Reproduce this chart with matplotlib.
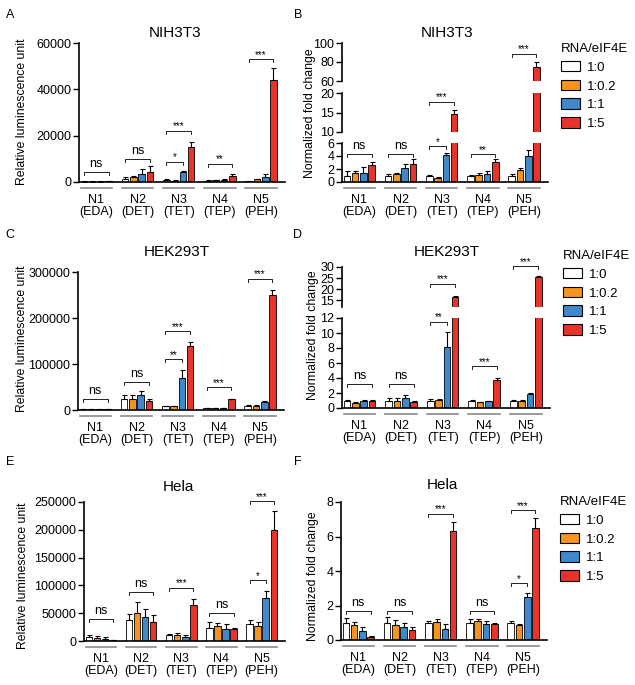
import numpy as np
import matplotlib
matplotlib.use("Agg")
import matplotlib.pyplot as plt
import matplotlib.transforms as mtransforms
from matplotlib.patches import Patch

plt.rcParams["font.family"] = ["Liberation Sans", "DejaVu Sans"]

#
# DATA
#

groups = ["N1\n(EDA)", "N2\n(DET)", "N3\n(TET)", "N4\n(TEP)", "N5\n(PEH)"]
ratios = ["1:0", "1:0.2", "1:1", "1:5"]
colors = ["white", "#f7941d", "#3f88cc", "#e8332a"]

# rows = groups N1..N5, columns = ratios 1:0, 1:0.2, 1:1, 1:5
nih_rlu = [[200, 200, 200, 400],
           [1500, 2000, 3500, 4200],
           [800, 500, 4300, 15200],
           [500, 700, 900, 2600],
           [400, 1200, 2200, 44200]]
nih_rlu_err = [[100, 100, 100, 200],
               [800, 500, 2000, 2500],
               [300, 200, 500, 2000],
               [200, 300, 600, 800],
               [200, 300, 1200, 4800]]
nih_rlu_sig = [(0, 0, 3, 4300, "ns"), (1, 0, 3, 10100, "ns"), (2, 0, 2, 8700, "*"),
               (2, 0, 3, 22100, "***"), (3, 0, 3, 7900, "**"), (4, 0, 3, 53000, "***")]

nih_fold = [[1.0, 1.35, 1.45, 2.6],
            [1.0, 1.2, 2.1, 2.7],
            [1.0, 0.65, 4.2, 14.5],
            [1.0, 1.1, 1.3, 3.1],
            [1.0, 1.9, 4.0, 75.0]]
nih_fold_err = [[0.7, 0.3, 0.8, 0.5],
                [0.2, 0.2, 0.6, 0.8],
                [0.15, 0.1, 0.3, 1.1],
                [0.15, 0.3, 0.4, 0.5],
                [0.2, 0.3, 1.0, 4.6]]
nih_fold_sig = [(0, 0, 3, 4.3, "ns"), (1, 0, 3, 4.3, "ns"), (2, 0, 2, 5.5, "*"),
                (2, 0, 3, 17.8, "***"), (3, 0, 3, 4.3, "**"), (4, 0, 3, 88.7, "***")]

hek_rlu = [[2000, 1500, 1500, 1500],
           [25000, 23000, 32000, 19000],
           [8000, 8000, 69000, 140000],
           [4000, 3500, 4000, 23000],
           [9000, 9000, 17000, 250000]]
hek_rlu_err = [[500, 500, 500, 500],
               [7000, 9000, 10000, 6000],
               [1000, 1000, 17000, 8000],
               [500, 500, 500, 2000],
               [1000, 1000, 2000, 10000]]
hek_rlu_sig = [(0, 0, 3, 23900, "ns"), (1, 0, 3, 61400, "ns"), (2, 0, 2, 110600, "**"),
               (2, 0, 3, 171300, "***"), (3, 0, 3, 49200, "***"), (4, 0, 3, 285500, "***")]

hek_fold = [[1.0, 0.7, 0.9, 0.95],
            [1.0, 0.95, 1.3, 0.75],
            [1.0, 1.05, 8.1, 16.3],
            [1.0, 0.75, 0.9, 3.7],
            [1.0, 1.0, 1.85, 25.3]]
hek_fold_err = [[0.1, 0.1, 0.15, 0.1],
                [0.35, 0.45, 0.45, 0.25],
                [0.2, 0.1, 2.1, 0.6],
                [0.05, 0.05, 0.05, 0.35],
                [0.05, 0.05, 0.1, 0.8]]
hek_fold_sig = [(0, 0, 3, 3.2, "ns"), (1, 0, 3, 3.2, "ns"), (2, 0, 2, 11.5, "**"),
                (2, 0, 3, 22.5, "***"), (3, 0, 3, 5.6, "***"), (4, 0, 3, 30.5, "***")]

hela_rlu = [[7000, 6000, 4000, 1500],
            [38000, 50000, 44000, 34000],
            [10000, 11000, 7000, 65000],
            [24000, 27000, 22000, 22000],
            [31000, 27000, 78000, 200000]]
hela_rlu_err = [[4000, 3000, 3000, 500],
                [10000, 20000, 14000, 13000],
                [2000, 3000, 4000, 10000],
                [10000, 6000, 8000, 2000],
                [7000, 7000, 12000, 34000]]
hela_rlu_sig = [(0, 0, 3, 40200, "ns"), (1, 0, 3, 88100, "ns"), (2, 0, 3, 95900, "***"),
                (3, 0, 3, 51000, "ns"), (4, 0, 2, 109100, "*"), (4, 0, 3, 251800, "***")]

hela_fold = [[1.0, 0.85, 0.55, 0.2],
             [1.0, 0.85, 0.75, 0.6],
             [1.0, 1.05, 0.65, 6.3],
             [1.0, 1.1, 0.9, 0.95],
             [1.0, 0.85, 2.5, 6.5]]
hela_fold_err = [[0.25, 0.2, 0.2, 0.05],
                 [0.35, 0.3, 0.25, 0.15],
                 [0.1, 0.15, 0.25, 0.55],
                 [0.2, 0.1, 0.2, 0.03],
                 [0.1, 0.1, 0.2, 0.55]]
hela_fold_sig = [(0, 0, 3, 1.68, "ns"), (1, 0, 3, 1.68, "ns"), (2, 0, 3, 7.33, "***"),
                 (3, 0, 3, 1.68, "ns"), (4, 0, 2, 3.28, "*"), (4, 0, 3, 7.52, "***")]

#
# LAYOUT
#

W, H = 635, 685
fig = plt.figure(figsize=(W / 100, H / 100), dpi=100)

offsets = [-0.3, -0.1, 0.1, 0.3]
bar_w = 0.16


def add_ax(left, right, top, bottom):
    return fig.add_axes([left / W, 1 - bottom / H, (right - left) / W, (bottom - top) / H])


def draw_bars(ax, means, errs):
    means = np.array(means, dtype=float)
    errs = np.array(errs, dtype=float)
    x = np.arange(len(groups))
    for j in range(len(ratios)):
        ax.bar(x + offsets[j], means[:, j], bar_w, color=colors[j],
               edgecolor="black", linewidth=0.6, zorder=2)
        ax.errorbar(x + offsets[j], means[:, j], yerr=[np.zeros(len(x)), errs[:, j]],
                    fmt="none", ecolor="black", elinewidth=0.8, capsize=1.8,
                    capthick=0.8, zorder=3)


def bracket(ax, g, b1, b2, y, label):
    x1 = g + offsets[b1]
    x2 = g + offsets[b2]
    lo, hi = ax.get_ylim()
    h = 3.0 / (ax.get_position().height * H) * (hi - lo)
    ax.plot([x1, x1, x2, x2], [y - h, y, y, y - h], color="#222222", lw=0.7,
            clip_on=False, zorder=4)
    if label == "ns":
        ax.annotate(label, xy=((x1 + x2) / 2, y), xytext=(0, 1.5), textcoords="offset points",
                    ha="center", va="bottom", fontsize=9, annotation_clip=False)
    else:
        ax.annotate(label, xy=((x1 + x2) / 2, y), xytext=(0, -0.5), textcoords="offset points",
                    ha="center", va="bottom", fontsize=7, annotation_clip=False)


def panel(x0, x1, segs, means, errs, sigs):
    # segs: list of (top_px, bottom_px, ymin, ymax, ticks), bottom segment first
    axes = []
    for k, (top, bottom, lo, hi, ticks) in enumerate(segs):
        ax = add_ax(x0, x1, top, bottom)
        ax.set_xlim(-0.42, 4.58)
        ax.set_ylim(lo, hi)
        draw_bars(ax, means, errs)
        ax.spines["top"].set_visible(False)
        ax.spines["right"].set_visible(False)
        ax.spines["left"].set_linewidth(1.2)
        ax.set_yticks(ticks)
        ax.set_yticklabels([str(t) for t in ticks])
        ax.tick_params(axis="y", length=4, width=1.0, pad=1.5, labelsize=9)
        ax.patch.set_alpha(0)
        if k == 0:
            ax.spines["bottom"].set_linewidth(1.2)
            ax.set_xticks(range(len(groups)))
            ax.set_xticklabels(groups, fontsize=9, linespacing=1.0)
            ax.tick_params(axis="x", length=0, pad=8.5)
            trans = mtransforms.offset_copy(ax.get_xaxis_transform(), fig=fig, y=-4.5, units="points")
            for i in range(len(groups)):
                ax.plot([i - 0.38, i + 0.38], [0, 0], transform=trans, color="#8a8a8a",
                        lw=1.2, clip_on=False)
        else:
            ax.spines["bottom"].set_visible(False)
            ax.set_xticks([])
        axes.append(ax)
    for g, b1, b2, y, label in sigs:
        target = axes[-1]
        for ax in axes:
            if y <= ax.get_ylim()[1]:
                target = ax
                break
        bracket(target, g, b1, b2, y, label)
    return axes


# A
panel(79, 285, [(43, 182, 0, 60000, [0, 20000, 40000, 60000])], nih_rlu, nih_rlu_err, nih_rlu_sig)
# B
panel(342, 548, [(143, 182, 0, 6, [0, 2, 4, 6]),
                 (93, 132, 10, 20, [10, 15, 20]),
                 (43, 81, 60, 100, [60, 80, 100])], nih_fold, nih_fold_err, nih_fold_sig)
# C
panel(78, 284, [(272, 410, 0, 300000, [0, 100000, 200000, 300000])], hek_rlu, hek_rlu_err, hek_rlu_sig)
# D
panel(342, 550, [(318, 408, 0, 12, [0, 2, 4, 6, 8, 10, 12]),
                 (267, 307, 12, 30, [15, 20, 25, 30])], hek_fold, hek_fold_err, hek_fold_sig)
# E
panel(84, 285, [(502, 641, 0, 250000, [0, 50000, 100000, 150000, 200000, 250000])],
      hela_rlu, hela_rlu_err, hela_rlu_sig)
# F
panel(341, 547, [(502, 640, 0, 8, [0, 2, 4, 6, 8])], hela_fold, hela_fold_err, hela_fold_sig)


def ftext(x, y, s, **kw):
    fig.text(x / W, 1 - y / H, s, **kw)


# panel letters
for letter, x, y in [("A", 10, 15), ("B", 298, 15), ("C", 10, 235),
                     ("D", 298, 235), ("E", 10, 462), ("F", 298, 462)]:
    ftext(x, y, letter, fontsize=9, ha="center", va="center")

# titles
for title, x, y in [("NIH3T3", 175, 33), ("NIH3T3", 447, 33), ("HEK293T", 177, 252),
                    ("HEK293T", 447, 252), ("Hela", 178, 487), ("Hela", 442, 485)]:
    ftext(x, y, title, fontsize=11, ha="center", va="center")

# y labels
for lab, x, y in [("Relative luminescence unit", 22, 112), ("Normalized fold change", 310, 113),
                  ("Relative luminescence unit", 22, 339), ("Normalized fold change", 313, 335),
                  ("Relative luminescence unit", 23, 576), ("Normalized fold change", 313, 576)]:
    ftext(x, y, lab, fontsize=8.8, rotation=90, ha="center", va="center")

# legends
handles = [Patch(facecolor=c, edgecolor="black", linewidth=0.8) for c in colors]
for x, y in [(561, 43), (563, 250), (560, 496)]:
    fig.legend(handles, ratios, title="RNA/eIF4E", loc="upper left",
               bbox_to_anchor=(x / W, 1 - y / H), frameon=False, fontsize=9.5,
               title_fontsize=9.5, alignment="left", borderpad=0, borderaxespad=0,
               handlelength=1.45, handleheight=0.85, handletextpad=0.5, labelspacing=0.45)

fig.savefig("out.png", dpi=100)
